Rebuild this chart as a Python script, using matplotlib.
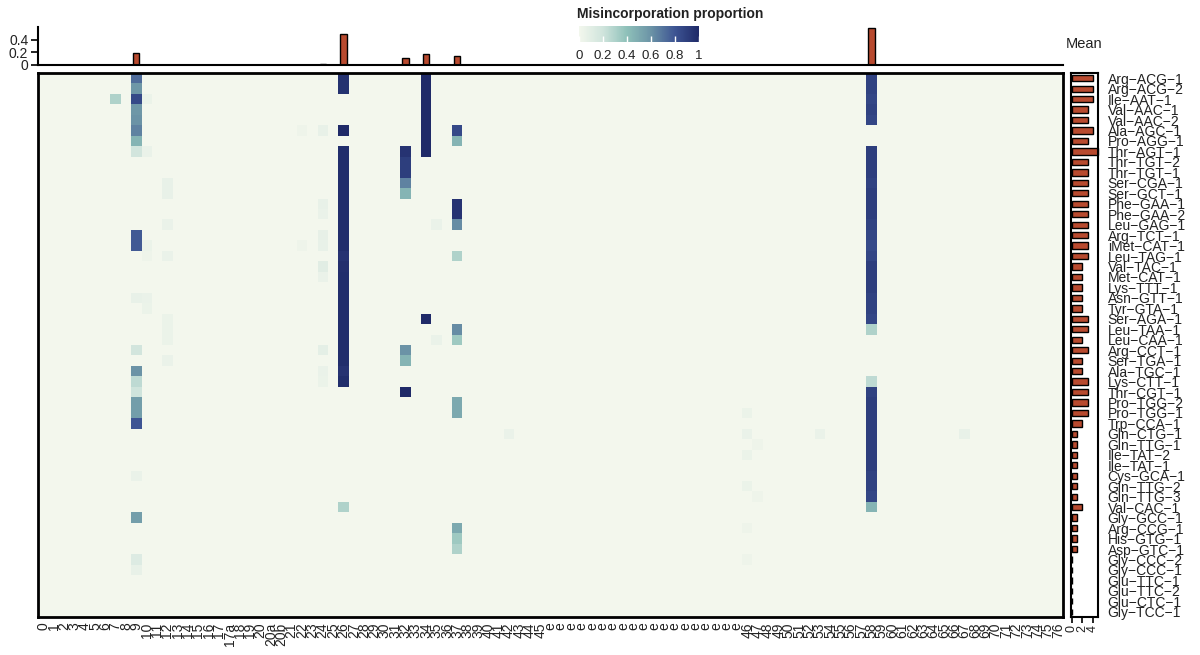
import numpy as np
import matplotlib.pyplot as plt
from matplotlib.colors import LinearSegmentedColormap

plt.rcParams['font.family'] = ['Liberation Sans', 'DejaVu Sans']

# --- data ---
positions = ([str(i) for i in range(0, 18)] + ['17a', '18', '19', '20', '20a', '20b']
             + [str(i) for i in range(21, 46)] + ['e'] * 19 + [str(i) for i in range(46, 77)])

trnas = ['Arg-ACG-1', 'Arg-ACG-2', 'Ile-AAT-1', 'Val-AAC-1', 'Val-AAC-2', 'Ala-AGC-1',
         'Pro-AGG-1', 'Thr-AGT-1', 'Thr-TGT-2', 'Thr-TGT-1', 'Ser-CGA-1', 'Ser-GCT-1',
         'Phe-GAA-1', 'Phe-GAA-2', 'Leu-GAG-1', 'Arg-TCT-1', 'iMet-CAT-1', 'Leu-TAG-1',
         'Val-TAC-1', 'Met-CAT-1', 'Lys-TTT-1', 'Asn-GTT-1', 'Tyr-GTA-1', 'Ser-AGA-1',
         'Leu-TAA-1', 'Leu-CAA-1', 'Arg-CCT-1', 'Ser-TGA-1', 'Ala-TGC-1', 'Lys-CTT-1',
         'Thr-CGT-1', 'Pro-TGG-2', 'Pro-TGG-1', 'Trp-CCA-1', 'Gln-CTG-1', 'Gln-TTG-1',
         'Ile-TAT-2', 'Ile-TAT-1', 'Cys-GCA-1', 'Gln-TTG-2', 'Gln-TTG-3', 'Val-CAC-1',
         'Gly-GCC-1', 'Arg-CCG-1', 'His-GTG-1', 'Asp-GTC-1', 'Gly-CCC-2', 'Gly-CCC-1',
         'Glu-TTC-1', 'Glu-TTC-2', 'Glu-CTC-1', 'Gly-TCC-1']

# number of misincorporated sites per tRNA (right bars)
site_counts = [4, 4, 4, 3, 3, 4, 3, 5, 3, 3, 3, 3, 3, 3, 3, 3, 3, 3,
               2, 2, 2, 2, 2, 3, 3, 2, 3, 2, 2, 3, 3, 3, 3, 2,
               1, 1, 1, 1, 1, 1, 1, 2, 1, 1, 1, 1, 0, 0, 0, 0, 0, 0]

# misincorporation proportion per position: (row number, value)
pos7 = [(3, 0.30)]
pos9 = [(1, 0.72), (2, 0.58), (3, 0.85), (4, 0.58), (5, 0.60), (6, 0.65), (7, 0.45),
        (8, 0.18), (16, 0.78), (17, 0.78), (22, 0.06), (27, 0.18), (29, 0.60),
        (30, 0.25), (31, 0.20), (32, 0.55), (33, 0.55), (34, 0.80), (39, 0.05),
        (43, 0.55), (47, 0.12), (48, 0.06)]
pos26 = [(1, 0.96), (2, 0.96), (6, 1.0), (8, 0.98), (9, 0.98), (10, 0.98), (11, 0.98),
         (12, 0.98), (13, 0.98), (14, 0.98), (15, 0.98), (16, 0.98), (17, 0.98),
         (18, 0.95), (19, 0.97), (20, 0.98), (21, 0.98), (22, 0.98), (23, 0.98),
         (24, 0.98), (25, 0.98), (26, 0.98), (27, 0.98), (28, 0.98), (29, 0.95),
         (30, 0.98), (42, 0.30)]
pos32 = [(8, 0.95), (9, 0.90), (10, 0.90), (11, 0.65), (12, 0.45), (27, 0.60),
         (28, 0.45), (31, 1.0)]
pos34 = [(1, 1.0), (2, 1.0), (3, 1.0), (4, 1.0), (5, 1.0), (6, 1.0), (7, 1.0),
         (8, 1.0), (24, 1.0)]
pos37 = [(6, 0.85), (7, 0.45), (13, 0.95), (14, 0.95), (15, 0.62), (18, 0.30),
         (25, 0.62), (26, 0.35), (32, 0.50), (33, 0.50), (44, 0.50), (45, 0.35),
         (46, 0.30)]
pos58 = [(1, 0.88), (2, 0.88), (3, 0.86), (4, 0.88), (5, 0.86), (8, 0.90), (9, 0.90),
         (10, 0.90), (11, 0.88), (12, 0.90), (13, 0.90), (14, 0.90), (15, 0.88),
         (16, 0.86), (17, 0.84), (18, 0.86), (19, 0.90), (20, 0.90), (21, 0.90),
         (22, 0.88), (23, 0.88), (24, 0.86), (25, 0.30), (30, 0.25), (31, 0.88),
         (32, 0.90), (33, 0.90), (34, 0.90), (35, 0.90), (36, 0.90), (37, 0.90),
         (38, 0.90), (39, 0.88), (40, 0.88), (41, 0.86), (42, 0.45)]
# faint background signal
pos10 = [(3, 0.04), (8, 0.05), (17, 0.04), (18, 0.03), (22, 0.05), (23, 0.04)]
pos12 = [(11, 0.06), (12, 0.06), (15, 0.05), (18, 0.05), (24, 0.04), (25, 0.04),
         (26, 0.04), (28, 0.05)]
pos22 = [(6, 0.03), (17, 0.03)]
pos24 = [(6, 0.06), (13, 0.06), (14, 0.05), (16, 0.07), (17, 0.06), (19, 0.10),
         (20, 0.05), (27, 0.08), (29, 0.05), (30, 0.04)]
pos35 = [(15, 0.05), (26, 0.05)]
pos42 = [(35, 0.05)]
pos46 = [(33, 0.04), (35, 0.05), (37, 0.04), (40, 0.04), (44, 0.03), (47, 0.03)]
pos47 = [(36, 0.03), (41, 0.03)]
pos53 = [(35, 0.05)]
pos67 = [(35, 0.06)]

cells = {'7': pos7, '9': pos9, '26': pos26, '32': pos32, '34': pos34, '37': pos37,
         '58': pos58, '10': pos10, '12': pos12, '22': pos22, '24': pos24, '35': pos35,
         '42': pos42, '46': pos46, '47': pos47, '53': pos53, '67': pos67}

n_pos = len(positions)
n_trna = len(trnas)
mat = np.zeros((n_trna, n_pos))
for lab, pairs in cells.items():
    j = positions.index(lab)
    for r, v in pairs:
        mat[r - 1, j] = v
col_mean = mat.mean(axis=0)

cmap = LinearSegmentedColormap.from_list(
    'mis', [(0, '#f3f7ed'), (0.2, '#cfe4dc'), (0.4, '#8ec0b9'),
            (0.6, '#6b93a6'), (0.8, '#3d5493'), (1.0, '#1f2a68')])
red = '#b84a2f'
txt = '#222222'

W, H = 1200, 655


def box(x0, y0, x1, y1):
    return [x0 / W, 1 - y1 / H, (x1 - x0) / W, (y1 - y0) / H]


fig = plt.figure(figsize=(12, 6.55), dpi=100)

# heatmap
ax = fig.add_axes(box(38, 73, 1063, 617))
im = ax.imshow(mat, aspect='auto', cmap=cmap, vmin=0, vmax=1, interpolation='nearest')
ax.set_xticks(np.arange(n_pos))
ax.set_xticklabels(positions, rotation=90, fontsize=10, color=txt)
ax.tick_params(axis='x', length=0, pad=4)
ax.set_yticks([])
for s in ax.spines.values():
    s.set_linewidth(2)

# column mean bars on top
axt = fig.add_axes(box(38, 27, 1063, 65))
axt.bar(np.arange(n_pos), col_mean, width=0.6, color=red, edgecolor='black', linewidth=1)
axt.set_xlim(-0.5, n_pos - 0.5)
axt.set_ylim(0, 0.6)
axt.set_yticks([0, 0.2, 0.4])
axt.set_yticklabels(['0', '0.2', '0.4'], fontsize=10, color=txt)
axt.tick_params(axis='y', length=5, width=1.2, pad=2)
axt.set_xticks([])
axt.spines['top'].set_visible(False)
axt.spines['right'].set_visible(False)
axt.spines['left'].set_linewidth(1.5)
axt.spines['bottom'].set_linewidth(1.5)
axt.patch.set_alpha(0)

# site count bars on the right
axr = fig.add_axes(box(1071, 73, 1098, 617))
axr.barh(np.arange(n_trna), site_counts, height=0.6, color=red, edgecolor='black',
         linewidth=1, clip_on=False)
axr.set_ylim(n_trna - 0.5, -0.5)
axr.set_xlim(-0.15, 5)
axr.set_xticks([0, 2, 4])
axr.set_xticklabels(['0', '2', '4'], rotation=90, fontsize=9, color=txt)
axr.tick_params(axis='x', length=4, width=1.2, pad=2)
axr.yaxis.tick_right()
axr.set_yticks(np.arange(n_trna))
axr.set_yticklabels([t.replace('-', '\u2212') for t in trnas], fontsize=10, color=txt)
axr.tick_params(axis='y', length=0, pad=7)
for s in axr.spines.values():
    s.set_linewidth(1.5)

# legend colorbar
cax = fig.add_axes(box(579, 26, 699, 42))
cb = fig.colorbar(im, cax=cax, orientation='horizontal')
cb.outline.set_visible(False)
cb.set_ticks([0, 0.2, 0.4, 0.6, 0.8, 1])
cb.set_ticklabels(['0', '0.2', '0.4', '0.6', '0.8', '1'])
cax.tick_params(axis='x', direction='in', color='white', length=4, width=1,
                labelsize=9.5, labelcolor=txt, pad=6)

fig.text(577 / W, 1 - 14 / H, 'Misincorporation proportion', fontsize=10,
         fontweight='bold', ha='left', va='center', color=txt)
fig.text(1066 / W, 1 - 44 / H, 'Mean', fontsize=10.5, ha='left', va='center', color=txt)

fig.savefig('out.png', dpi=100)
